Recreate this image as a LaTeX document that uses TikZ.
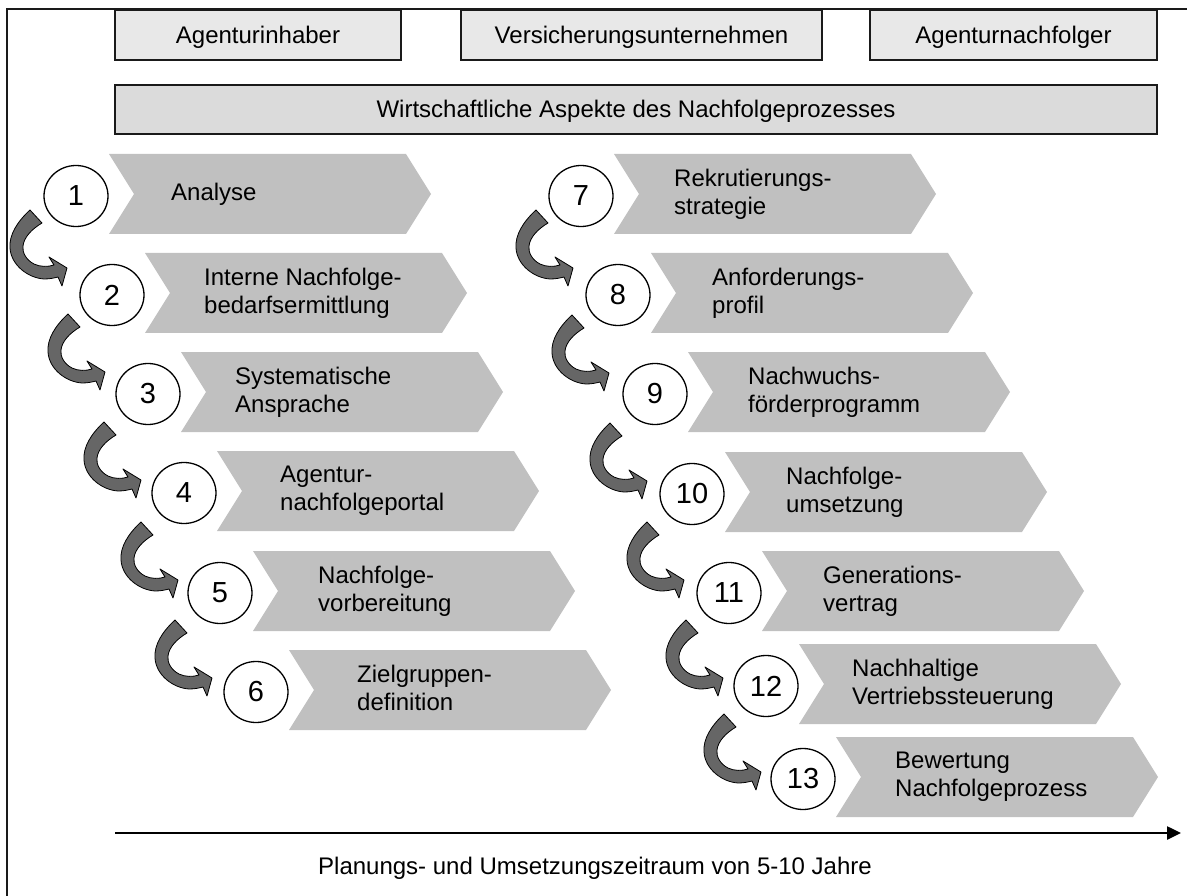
\documentclass[tikz,border=0pt]{standalone}
\usepackage{fontspec}
\setmainfont{Liberation Sans}
\usetikzlibrary{arrows.meta,shapes.geometric,calc}

\definecolor{boxlight}{HTML}{E8E8E8}
\definecolor{boxmid}{HTML}{DBDBDB}
\definecolor{chevgray}{HTML}{C0C0C0}
\definecolor{swooshgray}{HTML}{666666}
\definecolor{edge}{HTML}{1A1A1A}

% #1 text node name, #2 left edge, #3 top edge, #4 text start x, #5 label
\newcommand\procchev[5]{%
  \fill[chevgray] (#2,#3) -- ++(297,0) -- ++(25,40) -- ++(-25,40) -- ++(-297,0) -- ++(25,-40) -- cycle;
  \node[steptext] (#1) at (#4,#3+40) {#5};}

\begin{document}
\begin{tikzpicture}[x=1pt,y=-1pt,
  basefont/.style={font=\fontsize{24}{28}\selectfont},
  headbox/.style={basefont,draw=edge,line width=1.8pt,fill=boxlight,minimum height=50pt,
    inner sep=0pt,text height=17pt,text depth=0pt},
  steptext/.style={basefont,anchor=west,align=left,inner sep=0pt,
    execute at begin node={\rule[-5pt]{0pt}{24pt}},execute at end node={\rule[-5pt]{0pt}{24pt}}},
  numcirc/.style={ellipse,draw=black,line width=1.3pt,fill=white,minimum width=64pt,
    minimum height=61pt,inner sep=0pt,font=\fontsize{29}{31}\selectfont},
  swoosh/.pic={
    \filldraw[fill=swooshgray,draw=black,line width=0.8pt,line join=round]
      (-36,-58) .. controls (-49,-46) and (-57,-33) .. (-56,-20)
      .. controls (-55,-3) and (-38,10) .. (-22,11)
      .. controls (-16,11) and (-12,10) .. (-8,9)
      -- (-4,18) -- (1,0) -- (-17,-11) -- (-12,-3)
      .. controls (-18,-1) and (-26,-1) .. (-32,-4)
      .. controls (-40,-8) and (-44,-16) .. (-43,-22)
      .. controls (-42,-31) and (-34,-39) .. (-24,-45)
      -- cycle;}
]
\useasboundingbox (0,0) rectangle (1187,896);

% outer frame (left and top edge)
\draw[line width=2pt,edge] (7,896) -- (7,9) -- (1187,9);

% parties and overall heading
\node[headbox,minimum width=286pt] (owner) at (258,35) {Agenturinhaber};
\node[headbox,minimum width=361pt] (insurer) at (641.5,35) {Versicherungsunternehmen};
\node[headbox,minimum width=287pt] (successor) at (1013.5,35) {Agenturnachfolger};
\node[headbox,fill=boxmid,minimum width=1042pt,minimum height=49pt] (econ) at (636,109.5)
  {Wirtschaftliche Aspekte des Nachfolgeprozesses};

% process steps, left column
\procchev{t1}{109}{154}{171}{Analyse}
\procchev{t2}{145}{253}{204}{Interne Nachfolge-\\bedarfsermittlung}
\procchev{t3}{181}{352}{235}{Systematische\\Ansprache}
\procchev{t4}{217}{451}{280}{Agentur-\\nachfolgeportal}
\procchev{t5}{253}{551}{318}{Nachfolge-\\vorbereitung}
\procchev{t6}{289}{650}{357}{Zielgruppen-\\definition}

% process steps, right column
\procchev{t7}{614}{154}{674}{Rekrutierungs-\\strategie}
\procchev{t8}{651}{253}{712}{Anforderungs-\\profil}
\procchev{t9}{688}{352}{748}{Nachwuchs-\\förderprogramm}
\procchev{t10}{725}{452}{786}{Nachfolge-\\umsetzung}
\procchev{t11}{762}{551}{823}{Generations-\\vertrag}
\procchev{t12}{799}{644}{852}{Nachhaltige\\Vertriebssteuerung}
\procchev{t13}{836}{737}{895}{Bewertung\\Nachfolgeprozess}

% step numbers
\node[numcirc] (n1) at (76,196) {1};
\node[numcirc] (n2) at (112,295) {2};
\node[numcirc] (n3) at (148,394) {3};
\node[numcirc] (n4) at (184,493) {4};
\node[numcirc] (n5) at (220,593) {5};
\node[numcirc] (n6) at (256,692) {6};
\node[numcirc] (n7) at (581,196) {7};
\node[numcirc] (n8) at (618,295) {8};
\node[numcirc] (n9) at (655,394) {9};
\node[numcirc] (n10) at (692,494) {10};
\node[numcirc] (n11) at (729,593) {11};
\node[numcirc] (n12) at (766,686) {12};
\node[numcirc] (n13) at (803,779) {13};

% curved arrows leading into each following step
\pic at ($(n2.center)+(-46,-27)$) {swoosh};
\pic at ($(n3.center)+(-44,-22)$) {swoosh};
\pic at ($(n4.center)+(-44,-13)$) {swoosh};
\pic at ($(n5.center)+(-43,-13)$) {swoosh};
\pic at ($(n6.center)+(-45,-14)$) {swoosh};
\pic at ($(n8.center)+(-46,-27)$) {swoosh};
\pic at ($(n9.center)+(-47,-21)$) {swoosh};
\pic at ($(n10.center)+(-46,-13)$) {swoosh};
\pic at ($(n11.center)+(-46,-13)$) {swoosh};
\pic at ($(n12.center)+(-44,-8)$) {swoosh};
\pic at ($(n13.center)+(-43,-7)$) {swoosh};

% time axis
\coordinate (axstart) at (115,833);
\coordinate (axend) at (1181,833);
\draw[line width=2.5pt,black,-{Triangle[length=14pt,width=13pt]}] (axstart) -- (axend);
\node[basefont,anchor=base,inner sep=0pt] (span) at (595,874)
  {Planungs- und Umsetzungszeitraum von 5-10 Jahre};
\end{tikzpicture}
\end{document}
